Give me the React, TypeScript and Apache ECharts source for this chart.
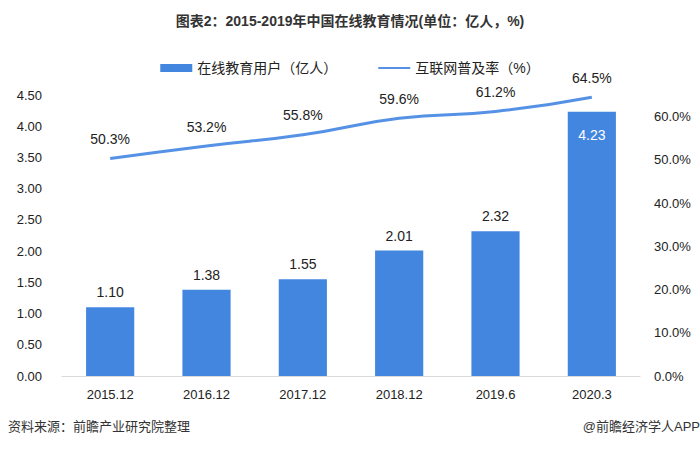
import React, { useEffect, useRef } from "react";
import * as echarts from "echarts";

const categories = ["2015.12", "2016.12", "2017.12", "2018.12", "2019.6", "2020.3"];
const users = [1.10, 1.38, 1.55, 2.01, 2.32, 4.23];
const penetration = [50.3, 53.2, 55.8, 59.6, 61.2, 64.5];
const leftTicks = { min: 0, max: 4.5, interval: 0.5 };
const rightTicks = { min: 0, max: 65, interval: 10 };

const FONT = "'Liberation Sans', 'Noto Sans CJK SC', sans-serif";

export default function App() {
  const ref = useRef<HTMLDivElement>(null);
  useEffect(() => {
    if (!ref.current) return;
    const chart = echarts.init(ref.current, undefined, { renderer: "svg" });
    const barData = users.map((v, i) =>
      i === users.length - 1
        ? { value: v, label: { position: "insideTop", color: "#ffffff", distance: 16 } }
        : v
    );
    chart.setOption({
      animation: false,
      backgroundColor: "#ffffff",
      textStyle: { fontFamily: FONT },
      title: {
        text: "图表2：2015-2019年中国在线教育情况(单位：亿人，%)",
        left: "center",
        top: 9,
        textStyle: { fontSize: 14, fontWeight: "bold", color: "#333", fontFamily: FONT },
      },
      legend: {
        top: 56,
        left: "center",
        itemGap: 40,
        itemWidth: 32,
        itemHeight: 8,
        textStyle: { fontSize: 14, color: "#222", fontFamily: FONT },
        data: [
          { name: "在线教育用户（亿人）", icon: "rect" },
          { name: "互联网普及率（%）" },
        ],
      },
      grid: { left: 62, right: 60, top: 95, bottom: 73, containLabel: false },
      xAxis: {
        type: "category",
        data: categories,
        axisTick: { show: false },
        axisLine: { lineStyle: { color: "#d9d9d9", width: 1 } },
        axisLabel: { color: "#222", fontSize: 13, margin: 12 },
      },
      yAxis: [
        {
          type: "value",
          min: leftTicks.min,
          max: leftTicks.max,
          interval: leftTicks.interval,
          splitLine: { show: false },
          axisLine: { show: false },
          axisTick: { show: false },
          axisLabel: {
            color: "#222",
            fontSize: 13,
            margin: 20,
            formatter: (v: number) => v.toFixed(2),
          },
        },
        {
          type: "value",
          min: rightTicks.min,
          max: rightTicks.max,
          interval: rightTicks.interval,
          splitLine: { show: false },
          axisLine: { show: false },
          axisTick: { show: false },
          axisLabel: {
            color: "#222",
            fontSize: 13,
            margin: 14,
            formatter: (v: number) => (v % 10 === 0 ? v.toFixed(1) + "%" : ""),
          },
        },
      ],
      series: [
        {
          name: "在线教育用户（亿人）",
          type: "bar",
          data: barData,
          barWidth: "50%",
          itemStyle: { color: "#4286E0" },
          label: {
            show: true,
            position: "top",
            distance: 8,
            color: "#222",
            fontSize: 14,
            formatter: (p: any) => Number(p.value).toFixed(2),
          },
        },
        {
          name: "互联网普及率（%）",
          type: "line",
          yAxisIndex: 1,
          data: penetration,
          smooth: true,
          symbol: "circle",
          symbolSize: 1,
          showSymbol: true,
          itemStyle: { color: "rgba(0,0,0,0)", borderWidth: 0 },
          lineStyle: { color: "#5592E6", width: 3 },
          label: {
            show: true,
            position: "top",
            distance: 12,
            color: "#222",
            fontSize: 14,
            formatter: (p: any) => Number(p.value).toFixed(1) + "%",
          },
        },
      ],
      graphic: [
        {
          type: "text",
          left: 8,
          top: 420,
          style: { text: "资料来源：前瞻产业研究院整理", fontSize: 13, fill: "#333", fontFamily: FONT },
        },
        {
          type: "text",
          right: 0,
          top: 420,
          style: { text: "@前瞻经济学人APP", fontSize: 13, fill: "#333", fontFamily: FONT },
        },
      ],
    });
    return () => chart.dispose();
  }, []);
  return <div ref={ref} style={{ width: 700, height: 449, position: "fixed", left: 0, top: 0 }} />;
}
